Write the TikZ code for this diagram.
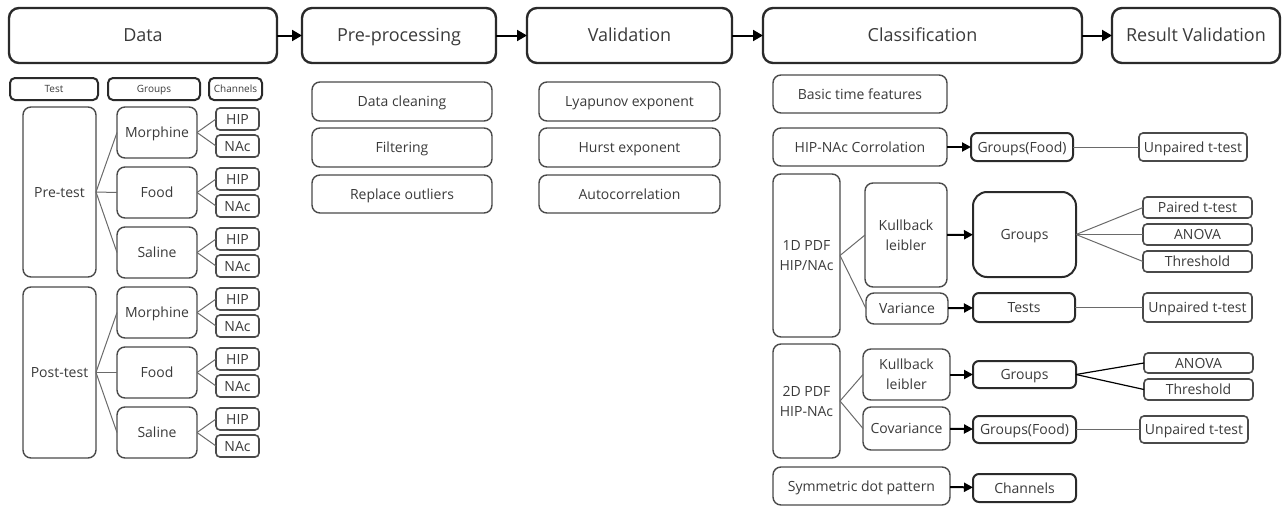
\documentclass[tikz,border=0pt]{standalone}
\usepackage{fontspec}
\setmainfont{Open Sans}
\usetikzlibrary{arrows.meta}
\definecolor{txt}{HTML}{3A3A3A}
\definecolor{edge}{HTML}{2A2A2A}
\definecolor{thin}{HTML}{4A4A4A}
\definecolor{lnk}{HTML}{6A6A6A}
\tikzset{
  base/.style={rectangle, inner sep=0pt, outer sep=0pt, align=center, text=txt},
  one/.style={text height=10pt, text depth=0pt},
  hdr/.style={base, draw=edge, line width=2.4pt, rounded corners=10pt, font=\fontsize{18}{22}\selectfont, text height=12.9pt, text depth=0pt},
  sub/.style={base, draw=thin, line width=1.4pt, rounded corners=8pt, font=\fontsize{14}{20}\selectfont},
  subb/.style={base, draw=edge, line width=2pt, rounded corners=6pt, font=\fontsize{14}{20}\selectfont, one},
  chan/.style={base, draw=thin, line width=1.6pt, rounded corners=4pt, font=\fontsize{14}{20}\selectfont, one},
  lab/.style={base, draw=edge, line width=2pt, rounded corners=5pt, font=\fontsize{10}{12}\selectfont, text height=7.1pt, text depth=0pt},
  res/.style={base, draw=thin, line width=1.6pt, rounded corners=4pt, font=\fontsize{14}{20}\selectfont, one},
  link/.style={draw=lnk, line width=1pt},
  flow/.style={draw=black, line width=2pt, -{Triangle[length=9pt,width=9pt]}},
  flowb/.style={draw=black, line width=2pt, -{Triangle[length=10pt,width=11pt]}}
}
\newcommand\bx[7]{\node[#1, minimum width=#4pt, minimum height=#5pt] (#6) at (#2pt,-#3pt) {#7};}
\begin{document}
\begin{tikzpicture}
\useasboundingbox (0pt,0pt) rectangle (1283pt,-506pt);
% headers
\bx{hdr}{143}{35.5}{268}{55}{hdata}{Data}
\bx{hdr}{399}{35.5}{194}{55}{hpre}{Pre-processing}
\bx{hdr}{629.5}{35.5}{205}{55}{hval}{Validation}
\bx{hdr}{922.5}{35.5}{319}{55}{hcls}{Classification}
\bx{hdr}{1196}{35.5}{168}{55}{hres}{Result Validation}
\draw[flowb] (hdata) -- (hpre);
\draw[flowb] (hpre) -- (hval);
\draw[flowb] (hval) -- (hcls);
\draw[flowb] (hcls) -- (hres);
% data column labels
\bx{lab}{54}{89}{88}{22}{ltest}{Test}
\bx{lab}{154}{89}{92}{22}{lgroups}{Groups}
\bx{lab}{235.5}{89}{53}{22}{lchan}{Channels}
% tests
\bx{sub,one}{59.5}{192}{73}{170}{pre}{Pre-test}
\bx{sub,one}{59.5}{372.5}{73}{171}{post}{Post-test}
% groups
\bx{sub,one}{157}{132.5}{80}{51}{g1}{Morphine}
\bx{sub,one}{157}{192.5}{80}{51}{g2}{Food}
\bx{sub,one}{157}{252.5}{80}{51}{g3}{Saline}
\bx{sub,one}{157}{312.5}{80}{51}{g4}{Morphine}
\bx{sub,one}{157}{372.5}{80}{51}{g5}{Food}
\bx{sub,one}{157}{432.5}{80}{51}{g6}{Saline}
\foreach \g in {1,2,3} {\draw[link] (pre.east) -- (g\g.west);}
\foreach \g in {4,5,6} {\draw[link] (post.east) -- (g\g.west);}
% channels
\bx{chan}{237.5}{119}{43}{22}{h1}{HIP}
\bx{chan}{237.5}{146}{43}{22}{n1}{NAc}
\bx{chan}{237.5}{179}{43}{22}{h2}{HIP}
\bx{chan}{237.5}{206}{43}{22}{n2}{NAc}
\bx{chan}{237.5}{239}{43}{22}{h3}{HIP}
\bx{chan}{237.5}{266}{43}{22}{n3}{NAc}
\bx{chan}{237.5}{299}{43}{22}{h4}{HIP}
\bx{chan}{237.5}{326}{43}{22}{n4}{NAc}
\bx{chan}{237.5}{359}{43}{22}{h5}{HIP}
\bx{chan}{237.5}{386}{43}{22}{n5}{NAc}
\bx{chan}{237.5}{419}{43}{22}{h6}{HIP}
\bx{chan}{237.5}{446}{43}{22}{n6}{NAc}
\foreach \g in {1,...,6} {\draw[link] (g\g.east) -- (h\g.west); \draw[link] (g\g.east) -- (n\g.west);}
% pre-processing
\bx{sub,one}{402}{101.5}{180}{39}{p1}{Data cleaning}
\bx{sub,one}{402}{147.5}{180}{39}{p2}{Filtering}
\bx{sub,one}{402}{194}{180}{38}{p3}{Replace outliers}
% validation
\bx{sub,one}{629.5}{101.5}{181}{39}{v1}{Lyapunov exponent}
\bx{sub,one}{629.5}{147.5}{181}{39}{v2}{Hurst exponent}
\bx{sub,one}{629.5}{194}{181}{38}{v3}{Autocorrelation}
% classification
\bx{sub,one}{860}{94}{174}{38}{basic}{Basic time features}
\bx{sub,one}{860}{147}{174}{38}{corr}{HIP-NAc Corrolation}
\bx{subb}{1022}{147}{102}{28}{gf1}{Groups(Food)}
\bx{res}{1193}{147}{108}{28}{up1}{Unpaired t-test}
\draw[flow] (corr) -- (gf1);
\draw[link] (gf1) -- (up1);
% 1D PDF
\bx{sub}{806.5}{255.5}{67}{163}{pdf1}{1D PDF\\HIP/NAc}
\bx{sub}{906}{235}{82}{104}{kl1}{Kullback\\leibler}
\bx{subb,rounded corners=14pt}{1024.5}{234.5}{103}{85}{gr1}{Groups}
\bx{res}{1197.5}{207.5}{109}{21}{pt}{Paired t-test}
\bx{res}{1197.5}{234.5}{109}{21}{an1}{ANOVA}
\bx{res}{1197.5}{261.5}{109}{21}{th1}{Threshold}
\bx{sub,one}{907}{308.5}{82}{31}{var}{Variance}
\bx{subb}{1024}{307.5}{102}{29}{tests}{Tests}
\bx{res}{1197.5}{307.5}{109}{29}{up2}{Unpaired t-test}
\draw[link] (pdf1.east) -- (kl1.west);
\draw[link] (pdf1.east) -- (var.west);
\draw[flow] (kl1) -- (gr1);
\draw[flow] (var) -- (tests);
\draw[link] (gr1.east) -- (pt.west);
\draw[link] (gr1.east) -- (an1.west);
\draw[link] (gr1.east) -- (th1.west);
\draw[link] (tests) -- (up2);
% 2D PDF
\bx{sub}{806.5}{401}{67}{114}{pdf2}{2D PDF\\HIP-NAc}
\bx{sub}{906.5}{374.5}{87}{51}{kl2}{Kullback\\leibler}
\bx{sub,one}{906.5}{428.5}{87}{43}{cov}{Covariance}
\bx{subb}{1024.5}{374.5}{103}{27}{gr2}{Groups}
\bx{res}{1198.5}{363}{109}{20}{an2}{ANOVA}
\bx{res}{1198.5}{389.5}{109}{21}{th2}{Threshold}
\bx{subb}{1024.5}{429.5}{103}{27}{gf2}{Groups(Food)}
\bx{res}{1194}{429.5}{108}{27}{up3}{Unpaired t-test}
\draw[link] (pdf2.east) -- (kl2.west);
\draw[link] (pdf2.east) -- (cov.west);
\draw[flow] (kl2) -- (gr2);
\draw[flow] (cov) -- (gf2);
\draw[draw=black, line width=1.2pt] (gr2.east) -- (an2.west);
\draw[draw=black, line width=1.2pt] (gr2.east) -- (th2.west);
\draw[link] (gf2) -- (up3);
% symmetric dot pattern
\bx{sub,one}{861.5}{486}{177}{38}{sdp}{Symmetric dot pattern}
\bx{subb}{1024.5}{488}{103}{28}{chs}{Channels}
\draw[flow] (sdp) -- (chs);
\end{tikzpicture}
\end{document}
